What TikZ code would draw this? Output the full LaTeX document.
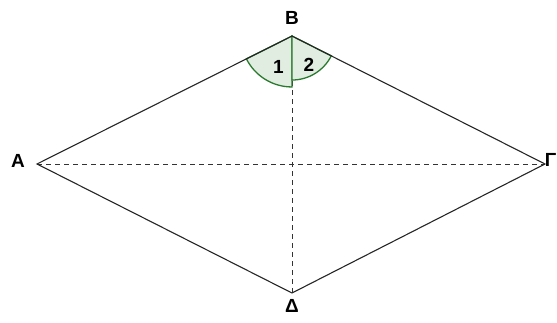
\documentclass[tikz,border=0pt]{standalone}
\usepackage{fontspec}
\setmainfont{Liberation Sans}
\usetikzlibrary{calc}
\definecolor{arccol}{RGB}{42,122,46}
\definecolor{sectcol}{RGB}{225,237,225}
\tikzset{
  vtx/.style={circle,inner sep=0pt,minimum size=0pt},
  lbl/.style={inner sep=0pt,font=\bfseries\fontsize{19}{21}\selectfont},
  side/.style={line width=1.1pt,black!85},
  diag/.style={line width=1pt,black!80,dash pattern=on 5pt off 4pt},
  sect/.style={draw=arccol,fill=sectcol,line width=1.3pt}
}
\begin{document}
\begin{tikzpicture}[x=1pt,y=1pt]
  \useasboundingbox (0,0) rectangle (557,322);
  \node[vtx] (A) at (37,158) {};\node[vtx] (B) at (292,286) {};
  \node[vtx] (G) at (545,158) {};\node[vtx] (D) at (292,29) {};
  % diagonals
  \draw[diag] (A)--(G);
  \draw[diag] (B)--(D);
  % angle sectors at B
  \draw[sect] (B.center) -- ($(B)!51pt!(A)$) arc[start angle=206.7,end angle=270,radius=51pt] -- cycle;
  \draw[sect] (B.center) -- ($(B)!44pt!(G)$) arc[start angle=333.2,end angle=270,radius=44pt] -- cycle;
  \node[lbl] (n1) at (278.5,255) {1};
  \node[lbl] (n2) at (309,257) {2};
  % sides
  \draw[side] (A.center)--(B.center)--(G.center)--(D.center)--cycle;
  \node[lbl] (lA) at (18,161) {Α};
  \node[lbl] (lB) at (292,304) {Β};
  \node[lbl,anchor=east] (lG) at (556.5,162) {Γ};
  \node[lbl] (lD) at (292,16) {Δ};
\end{tikzpicture}
\end{document}
